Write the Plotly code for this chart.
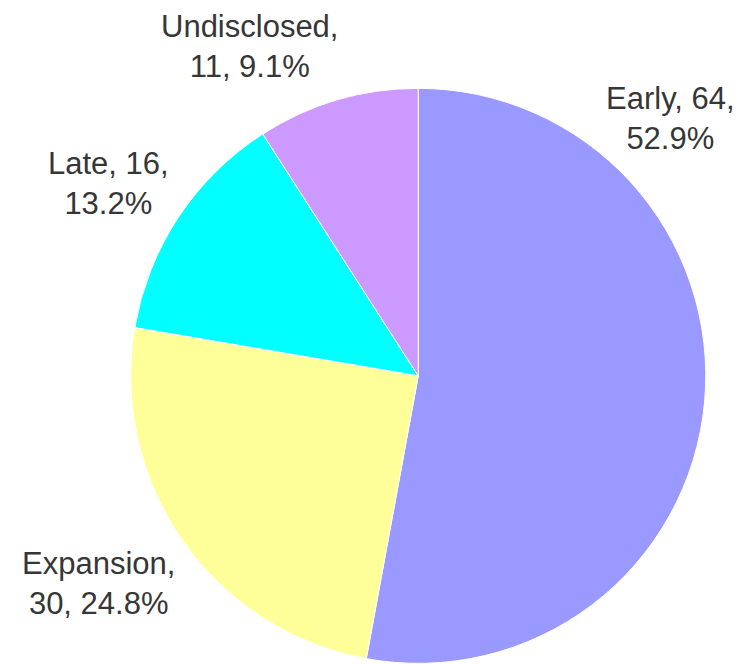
import plotly.graph_objects as go

labels = ["Early", "Expansion", "Late", "Undisclosed"]
values = [64, 30, 16, 11]
colors = ["#9999FF", "#FFFF99", "#00FFFF", "#CC99FF"]
# line-break position for each label (after which comma-separated part)
breaks = [2, 1, 2, 1]

# label anchor positions in pixels (layout only)
label_px = [(662, 111), (90, 575), (101, 176), (241, 38)]

W, H = 750, 664
total = sum(values)

fig = go.Figure()
fig.add_trace(go.Pie(
    labels=labels, values=values,
    marker=dict(colors=colors, line=dict(color="white", width=1)),
    sort=False, direction="clockwise", rotation=0,
    textinfo="none", hoverinfo="label+value+percent",
    domain=dict(x=[0.163, 0.931], y=[0.013, 0.879]),
    showlegend=False,
))

for lab, val, br, (px, py) in zip(labels, values, breaks, label_px):
    parts = [lab, str(val), f"{val / total * 100:.1f}%"]
    text = ", ".join(parts[:br]) + ",<br>" + ", ".join(parts[br:])
    fig.add_annotation(
        x=px / W, y=1 - py / H, xref="paper", yref="paper",
        text=text, showarrow=False, xanchor="center", yanchor="middle",
        font=dict(family="Liberation Sans, Arial, sans-serif", size=31, color="#363636"),
    )

fig.update_layout(
    width=W, height=H,
    margin=dict(l=0, r=0, t=0, b=0),
    paper_bgcolor="white", plot_bgcolor="white",
)

fig.write_html("out.html")
